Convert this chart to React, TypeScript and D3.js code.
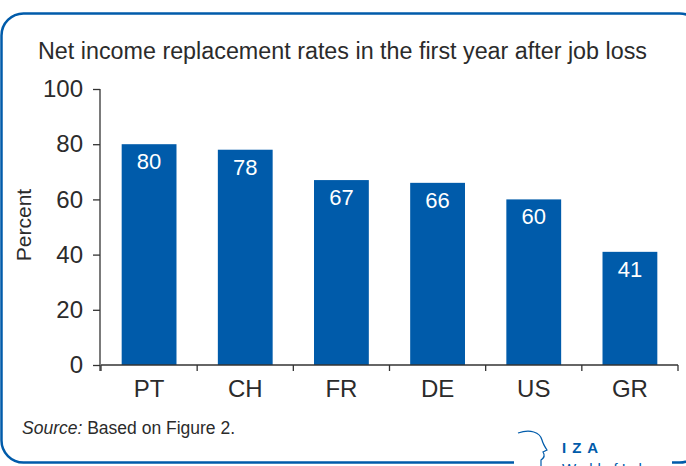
import React, { useRef, useEffect } from "react";
import * as d3 from "d3";

// Chart data
const countries = ["PT", "CH", "FR", "DE", "US", "GR"];
const rates = [80, 78, 67, 66, 60, 41];
const yTicks = [0, 20, 40, 60, 80, 100];

const title = "Net income replacement rates in the first year after job loss";
const yLabel = "Percent";

const BLUE = "#005BAA";
const TEXT = "#2b2b2b";
const FONT = "'Liberation Sans', Arial, sans-serif";

const App: React.FC = () => {
	const svgRef = useRef<SVGSVGElement>(null);

	useEffect(() => {
		if (!svgRef.current) return;
		const svg = d3.select(svgRef.current);
		svg.selectAll("*").remove();

		const x = d3
			.scaleBand<string>()
			.domain(countries)
			.range([101, 678])
			.paddingInner(0.43)
			.paddingOuter(0.215);

		const y = d3.scaleLinear().domain([0, 100]).range([365, 89]);

		// Frame
		svg.append("rect")
			.attr("x", 1.5)
			.attr("y", 13.5)
			.attr("width", 700)
			.attr("height", 449)
			.attr("rx", 22)
			.attr("fill", "none")
			.attr("stroke", BLUE)
			.attr("stroke-width", 2.5);

		// Title
		svg.append("text")
			.attr("x", 38)
			.attr("y", 59)
			.attr("textLength", 609)
			.attr("lengthAdjust", "spacingAndGlyphs")
			.attr("font-family", FONT)
			.attr("font-size", 23)
			.attr("fill", TEXT)
			.text(title);

		// Bars
		const data = countries.map((c, i) => ({ c, v: rates[i] }));
		svg.append("g")
			.selectAll("rect")
			.data(data)
			.join("rect")
			.attr("x", (d) => x(d.c)!)
			.attr("y", (d) => y(d.v))
			.attr("width", x.bandwidth())
			.attr("height", (d) => y(0) - y(d.v))
			.attr("fill", BLUE);

		// Value labels inside bars
		svg.append("g")
			.selectAll("text")
			.data(data)
			.join("text")
			.attr("x", (d) => x(d.c)! + x.bandwidth() / 2)
			.attr("y", (d) => y(d.v) + 25)
			.attr("text-anchor", "middle")
			.attr("font-family", FONT)
			.attr("font-size", 22)
			.attr("fill", "#ffffff")
			.text((d) => d.v);

		// Y axis
		const yAxis = svg
			.append("g")
			.attr("transform", "translate(100,0)")
			.call(
				d3
					.axisLeft(y)
					.tickValues(yTicks)
					.tickSize(7)
					.tickPadding(10)
			);
		yAxis.select(".domain").attr("stroke", "#333").attr("stroke-width", 1.3)
			.attr("d", `M0,${y(100)}V${y(0) + 6}`);
		yAxis.selectAll(".tick line").attr("stroke", "#333").attr("stroke-width", 1.3);
		yAxis.selectAll(".tick text")
			.attr("font-family", FONT)
			.attr("font-size", 24)
			.attr("fill", TEXT);

		// X axis
		const [x0, x1] = x.range();
		svg.append("line")
			.attr("x1", x0)
			.attr("x2", x1)
			.attr("y1", y(0))
			.attr("y2", y(0))
			.attr("stroke", "#333")
			.attr("stroke-width", 1.3);

		const boundaries = d3.range(countries.length + 1).map((i) => x0 + i * x.step());
		svg.append("g")
			.selectAll("line")
			.data(boundaries)
			.join("line")
			.attr("x1", (d) => d)
			.attr("x2", (d) => d)
			.attr("y1", y(0))
			.attr("y2", y(0) + 6)
			.attr("stroke", "#333")
			.attr("stroke-width", 1.3);

		svg.append("g")
			.selectAll("text")
			.data(countries)
			.join("text")
			.attr("x", (d) => x(d)! + x.bandwidth() / 2)
			.attr("y", 397)
			.attr("text-anchor", "middle")
			.attr("font-family", FONT)
			.attr("font-size", 24)
			.attr("fill", TEXT)
			.text((d) => d);

		// Y label
		svg.append("text")
			.attr("transform", "translate(31,225) rotate(-90)")
			.attr("text-anchor", "middle")
			.attr("font-family", FONT)
			.attr("font-size", 21)
			.attr("fill", TEXT)
			.text(yLabel);

		// Source note
		const src = svg.append("text")
			.attr("x", 22)
			.attr("y", 434)
			.attr("font-family", FONT)
			.attr("font-size", 17.5)
			.attr("fill", TEXT);
		src.append("tspan").attr("font-style", "italic").text("Source:");
		src.append("tspan").text(" Based on Figure 2.");

		// Logo area (gap in frame)
		svg.append("rect")
			.attr("x", 514)
			.attr("y", 455)
			.attr("width", 158)
			.attr("height", 12)
			.attr("fill", "#ffffff");

		svg.append("path")
			.attr("d", "M518,433 C530,429 540,432 542,440 C543,444 545,447 547,450 L543,452 C545,455 544,458 541,460 L541,466")
			.attr("fill", "none")
			.attr("stroke", BLUE)
			.attr("stroke-width", 1.2);

		svg.append("text")
			.attr("x", 562)
			.attr("y", 453)
			.attr("font-family", FONT)
			.attr("font-size", 15)
			.attr("font-weight", "bold")
			.attr("letter-spacing", 6)
			.attr("fill", BLUE)
			.text("IZA");

		svg.append("text")
			.attr("x", 562)
			.attr("y", 474)
			.attr("font-family", FONT)
			.attr("font-size", 15)
			.attr("fill", BLUE)
			.text("World of Labor");
	}, []);

	return (
		<div style={{ position: "fixed", top: 0, left: 0, background: "#fff" }}>
			<svg ref={svgRef} width={686} height={466} style={{ display: "block" }} />
		</div>
	);
};

export default App;
